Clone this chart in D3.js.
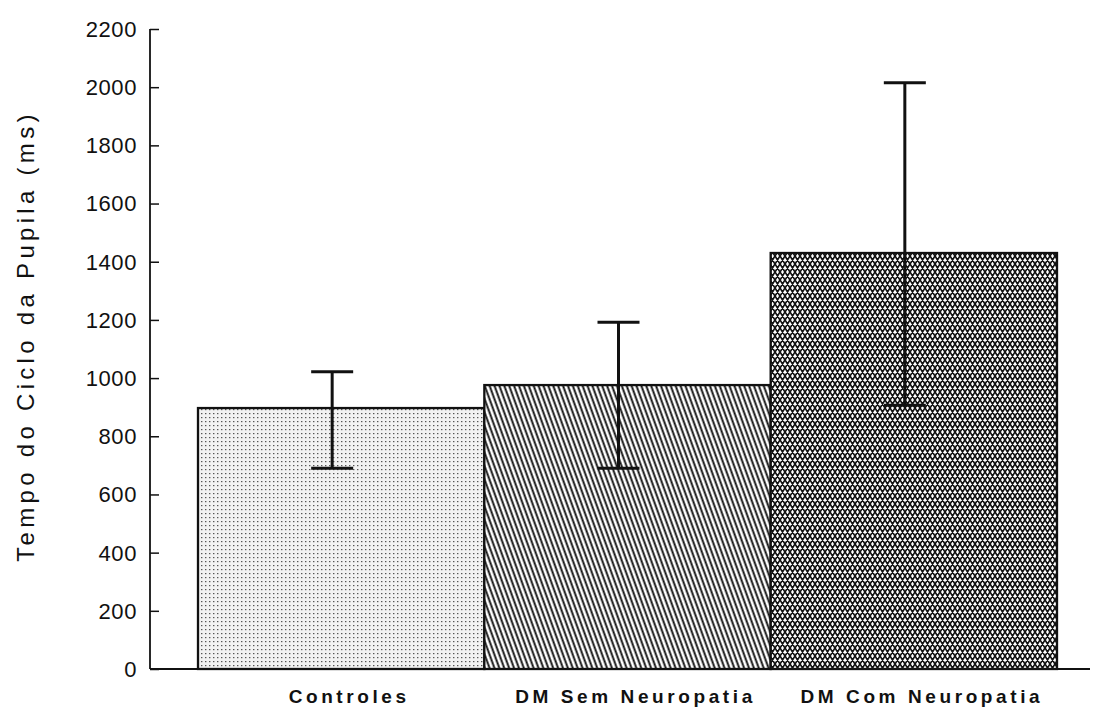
<!DOCTYPE html>
<html>
<head>
<meta charset="utf-8">
<script src="https://cdn.jsdelivr.net/npm/d3@7"></script>
<style>
  body { margin: 0; background: #fff; }
  svg { display: block; }
</style>
</head>
<body>
<div id="chart"></div>
<script>
// data
var groups   = ['Controles', 'DM Sem Neuropatia', 'DM Com Neuropatia'];
var means    = [897, 976, 1430];
var errLow   = [690, 690, 907];
var errHigh  = [1022, 1192, 2015];
var patterns = ['dots', 'diag', 'cross'];
var yTicks   = [0, 200, 400, 600, 800, 1000, 1200, 1400, 1600, 1800, 2000, 2200];

var width = 1096, height = 712;
var plotLeft = 150, plotTop = 29, plotBottom = 669;

var svg = d3.select('#chart').append('svg')
    .attr('width', width)
    .attr('height', height);

var defs = svg.append('defs');

// fine dots
var pDots = defs.append('pattern')
    .attr('id', 'dots')
    .attr('patternUnits', 'userSpaceOnUse')
    .attr('width', 4).attr('height', 4);
pDots.append('rect').attr('width', 4).attr('height', 4).attr('fill', '#f2f2f2');
pDots.append('rect').attr('x', 1).attr('y', 1).attr('width', 1.4).attr('height', 1.2).attr('fill', '#555');

// steep diagonal lines
var pDiag = defs.append('pattern')
    .attr('id', 'diag')
    .attr('patternUnits', 'userSpaceOnUse')
    .attr('width', 4.6).attr('height', 10)
    .attr('patternTransform', 'rotate(-20)');
pDiag.append('rect').attr('width', 4.6).attr('height', 10).attr('fill', '#fff');
pDiag.append('line')
    .attr('x1', 1.5).attr('y1', -1).attr('x2', 1.5).attr('y2', 11)
    .attr('stroke', '#111').attr('stroke-width', 1.9);

// dense crosshatch
var pCross = defs.append('pattern')
    .attr('id', 'cross')
    .attr('patternUnits', 'userSpaceOnUse')
    .attr('width', 5).attr('height', 8);
pCross.append('rect').attr('width', 5).attr('height', 8).attr('fill', '#fff');
pCross.append('path')
    .attr('d', 'M-2.5,-4 L7.5,12 M2.5,-4 L12.5,12 M-7.5,-4 L2.5,12 M7.5,-4 L-2.5,12 M2.5,-4 L-7.5,12 M12.5,-4 L2.5,12')
    .attr('stroke', '#111').attr('stroke-width', 1.7).attr('fill', 'none');

var y = d3.scaleLinear().domain([0, 2200]).range([plotBottom, plotTop]);
var x = d3.scaleBand().domain(groups).range([198, 1057]).padding(0);

var errOffset = -9; // error bars sit a bit left of the bar centre

// bars
svg.selectAll('rect.bar')
    .data(groups)
    .enter().append('rect')
    .attr('class', 'bar')
    .attr('x', function (d) { return x(d); })
    .attr('y', function (d, i) { return y(means[i]); })
    .attr('width', x.bandwidth())
    .attr('height', function (d, i) { return y(0) - y(means[i]); })
    .attr('fill', function (d, i) { return 'url(#' + patterns[i] + ')'; })
    .attr('stroke', '#111')
    .attr('stroke-width', 2.3);

// error bars
var capW = 42;
groups.forEach(function (g, i) {
    var cx = x(g) + x.bandwidth() / 2 + errOffset;
    var e = svg.append('g')
        .attr('stroke', '#111')
        .attr('stroke-width', 3)
        .attr('fill', 'none');
    e.append('line')
        .attr('x1', cx).attr('x2', cx)
        .attr('y1', y(errLow[i])).attr('y2', y(errHigh[i]));
    e.append('line')
        .attr('x1', cx - capW / 2).attr('x2', cx + capW / 2)
        .attr('y1', y(errHigh[i])).attr('y2', y(errHigh[i]));
    e.append('line')
        .attr('x1', cx - capW / 2).attr('x2', cx + capW / 2)
        .attr('y1', y(errLow[i])).attr('y2', y(errLow[i]));
});

// y axis, ticks point inward
var yAxis = d3.axisRight(y)
    .tickValues(yTicks)
    .tickSize(9)
    .tickFormat('');
var gy = svg.append('g')
    .attr('transform', 'translate(' + plotLeft + ',0)')
    .call(yAxis);
gy.select('.domain').remove();
gy.selectAll('.tick line').attr('stroke', '#111').attr('stroke-width', 1.5);

svg.append('line')
    .attr('x1', plotLeft).attr('x2', plotLeft)
    .attr('y1', y(2200)).attr('y2', y(0))
    .attr('stroke', '#111').attr('stroke-width', 1.8);

// baseline
svg.append('line')
    .attr('x1', plotLeft).attr('x2', 1090)
    .attr('y1', y(0)).attr('y2', y(0))
    .attr('stroke', '#111').attr('stroke-width', 1.8);

// y tick labels
svg.selectAll('text.ylab')
    .data(yTicks)
    .enter().append('text')
    .attr('class', 'ylab')
    .attr('x', plotLeft - 13)
    .attr('y', function (d) { return y(d); })
    .attr('dy', '0.36em')
    .attr('text-anchor', 'end')
    .attr('font-family', 'Liberation Sans, Arial, sans-serif')
    .attr('font-size', 22)
    .attr('letter-spacing', 0.6)
    .attr('fill', '#111')
    .text(function (d) { return d; });

// y title
svg.append('text')
    .attr('transform', 'translate(34,' + 336 + ') rotate(-90)')
    .attr('text-anchor', 'middle')
    .attr('font-family', 'Liberation Sans, Arial, sans-serif')
    .attr('font-size', 24)
    .attr('letter-spacing', 4.3)
    .attr('fill', '#111')
    .text('Tempo do Ciclo da Pupila (ms)');

// x labels
svg.selectAll('text.xlab')
    .data(groups)
    .enter().append('text')
    .attr('class', 'xlab')
    .attr('x', function (d) { return x(d) + x.bandwidth() / 2 + 8; })
    .attr('y', 703)
    .attr('text-anchor', 'middle')
    .attr('font-family', 'Liberation Sans, Arial, sans-serif')
    .attr('font-weight', 'bold')
    .attr('font-size', 19)
    .attr('letter-spacing', 3.6)
    .attr('fill', '#111')
    .text(function (d) { return d; });
</script>
</body>
</html>
